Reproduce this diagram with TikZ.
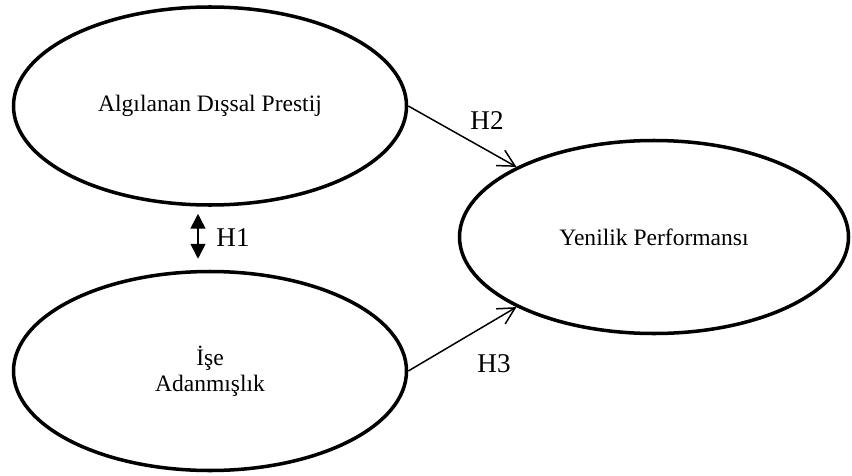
\documentclass[tikz,border=0pt]{standalone}
\usepackage{fontspec}
\setmainfont{Liberation Serif}
\usetikzlibrary{shapes.geometric,arrows.meta}

\begin{document}
\begin{tikzpicture}[
    construct/.style={draw, ellipse, line width=2pt, inner sep=0pt,
        minimum width=7.86cm, minimum height=3.96cm, align=center,
        font=\fontsize{13.4}{15}\selectfont},
    hyp/.style={line width=0.85pt, -{Straight Barb[length=9.5pt,width=10pt]}},
    hlabel/.style={font=\fontsize{15.4}{18}\selectfont, inner sep=0pt}]
    \useasboundingbox (0,0) rectangle (17.04,-9.5);
    % constructs
    \node[construct] (prestige) at (4.2,-2.12) {Algılanan Dışsal Prestij};
    \node[construct, minimum height=3.98cm] (commit) at (4.2,-7.42) {İşe\\Adanmışlık};
    \node[construct, minimum width=7.78cm, minimum height=3.86cm] (perf) at (13.08,-4.74) {Yenilik Performansı};
    % hypotheses
    \draw[line width=1pt, {Triangle[length=8.5pt,width=8.5pt]}-{Triangle[length=8.5pt,width=8.5pt]},
        shorten <=0.14cm, shorten >=0.22cm]
        ([xshift=-0.24cm]prestige.south) -- ([xshift=-0.24cm]commit.north);
    \draw[hyp] (prestige.east) -- (perf.153);
    \draw[hyp] (commit.east) -- (perf.207);
    \node[hlabel] (h1) at (4.66,-4.76) {H1};
    \node[hlabel] (h2) at (9.74,-2.42) {H2};
    \node[hlabel] (h3) at (9.88,-7.28) {H3};
\end{tikzpicture}
\end{document}
